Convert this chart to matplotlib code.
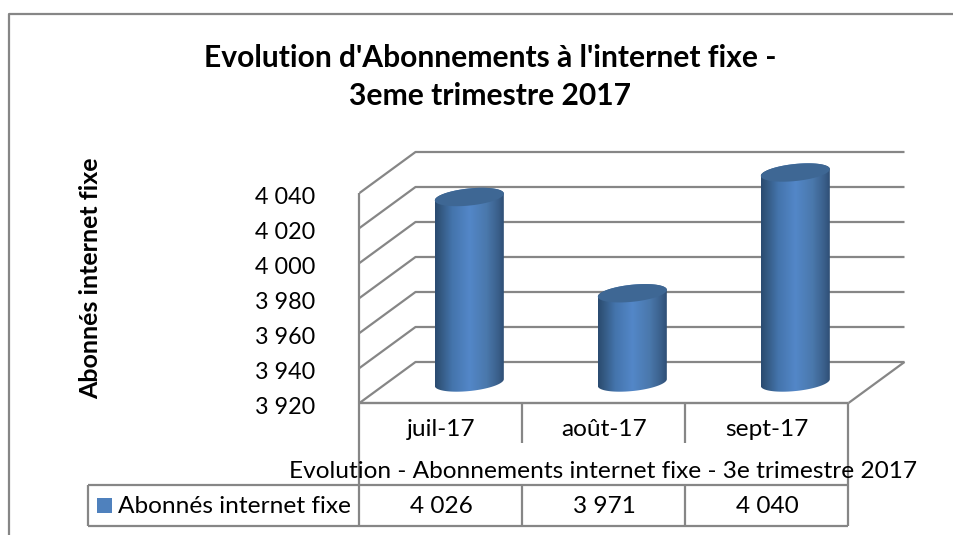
import numpy as np
import matplotlib
matplotlib.use("Agg")
import matplotlib.pyplot as plt
from matplotlib.patches import Polygon, Rectangle
from matplotlib.colors import LinearSegmentedColormap

# --- data ---
categories = ["juil-17", "août-17", "sept-17"]
values = [4026, 3971, 4040]
value_labels = ["4 026", "3 971", "4 040"]
y_ticks = [3920, 3940, 3960, 3980, 4000, 4020, 4040]
y_tick_labels = ["3 920", "3 940", "3 960", "3 980", "4 000", "4 020", "4 040"]
title = "Evolution d'Abonnements à l'internet fixe -\n3eme trimestre 2017"
y_label = "Abonnés internet fixe"
x_label = "Evolution - Abonnements internet fixe - 3e trimestre 2017"
series_name = "Abonnés internet fixe"

W, H = 954, 535
plt.rcParams['font.family'] = ['Lato', 'DejaVu Sans']
fig = plt.figure(figsize=(W / 100, H / 100), dpi=100, facecolor='white')

# axes = front plane of the 3D box, in pixels from the top-left
L, R, B, T = 359.5, 848.5, 403.0, 193.0
ax = fig.add_axes([L / W, 1 - B / H, (R - L) / W, (B - T) / H])
ax.set_xlim(-0.5, 2.5)
ax.set_ylim(3920, 4040)
ax.axis('off')
sx = (R - L) / 3
sy = (B - T) / 120
DX, DY = 56 / sx, 41 / sy          # box depth, in data units
GRID = '#868686'
TXT = 17.6


def pxx(p):
    return -0.5 + (p - L) / sx


def pxy(p):
    return 3920 + (B - p) / sy


def line(xs, ys, lw=1.6, z=1):
    ax.plot(xs, ys, color=GRID, lw=lw, clip_on=False, zorder=z, solid_capstyle='butt')


# walls and floor
xl, xr = -0.5, 2.5
for v in y_ticks:
    line([xl, xl + DX, xr + DX], [v, v + DY, v + DY])
line([xl, xl], [3920, 4040])
line([xr, xr + DX], [3920, 3920 + DY])
line([xl, xr], [3920, 3920], lw=1.7)

# cylinders
cmap = LinearSegmentedColormap.from_list(
    'cyl', [(0, '#2A4A70'), (0.08, '#335880'), (0.25, '#4474AC'), (0.5, '#5387C8'),
            (0.75, '#4A78AC'), (0.92, '#3A5F8A'), (1, '#2F4F76')])
grad = np.linspace(0, 1, 256).reshape(1, -1)
A, Bb, PHI = 34.5, 8.5, np.deg2rad(-6)


def ellipse(cx, cy, t):
    ex = A * np.cos(t) * np.cos(PHI) - Bb * np.sin(t) * np.sin(PHI)
    ey = A * np.cos(t) * np.sin(PHI) + Bb * np.sin(t) * np.cos(PHI)
    k = A / np.abs(ex).max()
    return cx + ex * k / sx, cy - ey / sy


t_all = np.linspace(0, 2 * np.pi, 361)
for i, v in enumerate(values):
    cx = i + DX / 2 + 0.002
    top = v + DY / 2
    bot = 3920 + DY / 2
    ex, ey = ellipse(cx, bot, t_all)
    fx, fy = ellipse(cx, top, t_all)
    # silhouette: lower arc of the base, upper arc of the top
    i0, i1 = np.argmax(ex), np.argmin(ex)
    a = (np.arange(i0, i1 + 1) % 360)
    lower = np.column_stack([ex[a], ey[a]])
    if lower[:, 1].mean() > bot:
        a = np.arange(i1, i0 + 361) % 360
        lower = np.column_stack([ex[a], ey[a]])[::-1]
    j0, j1 = np.argmin(fx), np.argmax(fx)
    b = np.arange(j0, j1 + 361 if j1 < j0 else j1 + 1) % 360
    upper = np.column_stack([fx[b], fy[b]])
    if upper[:, 1].mean() < top:
        b = np.arange(j1, j0 + 361 if j0 < j1 else j0 + 1) % 360
        upper = np.column_stack([fx[b], fy[b]])[::-1]
    sil = Polygon(np.vstack([lower, upper]), closed=True, transform=ax.transData,
                  facecolor='none', edgecolor='none')
    ax.add_patch(sil)
    sil.set_clip_on(False)
    im = ax.imshow(grad, cmap=cmap, aspect='auto', zorder=3, interpolation='bilinear',
                   extent=(cx - A / sx, cx + A / sx, 3900, 4070))
    im.set_clip_box(fig.bbox)
    im.set_clip_path(sil)
    ax.fill(fx, fy, color='#3E6794', zorder=4, lw=0, clip_on=False)
ax.set_xlim(-0.5, 2.5)
ax.set_ylim(3920, 4040)

# y ticks
for v, s in zip(y_ticks, y_tick_labels):
    ax.text(pxx(315), v - 4.5 / sy, s, ha='right', va='center', fontsize=16.8, color='black', clip_on=False)

# data table
bounds = [-0.5, 0.5, 1.5, 2.5]
y_cat, y_t0, y_t1 = pxy(443), pxy(485), pxy(526)
xleft = pxx(88)
line([xleft, xr], [y_t0, y_t0])
line([xleft, xr], [y_t1, y_t1])
line([xleft, xleft], [y_t0, y_t1])
line([-0.5, -0.5], [3920, y_t1])
line([2.5, 2.5], [3920, y_t1])
for b in bounds[1:3]:
    line([b, b], [3920, y_cat])
    line([b, b], [y_t0, y_t1])
for i, (c, s) in enumerate(zip(categories, value_labels)):
    ax.text(i, pxy(430), c, ha='center', va='center', fontsize=TXT, clip_on=False)
    ax.text(i, pxy(507), s, ha='center', va='center', fontsize=TXT, clip_on=False)
ax.add_patch(Rectangle((pxx(97), pxy(513)), 15 / sx, 15 / sy, color='#4F81BD', lw=0, clip_on=False))
ax.text(pxx(118), pxy(507), series_name, ha='left', va='center', fontsize=TXT, clip_on=False)

# axis titles
ax.text(pxx(603.5), pxy(472), x_label, ha='center', va='center', fontsize=TXT, clip_on=False, zorder=6)
ax.text(pxx(91), pxy(278), y_label, ha='center', va='center', rotation=90,
        fontsize=18, fontweight='bold', clip_on=False)
fig.text(490 / W, 1 - 77 / H, title, ha='center', va='center', fontsize=21.6,
         fontweight='bold', linespacing=1.42)

# chart frame
fig.add_artist(plt.Line2D([9 / W, 9 / W, 1], [0, 1 - 13.5 / H, 1 - 13.5 / H], color=GRID, lw=1.6))

fig.savefig('out.png', dpi=100, facecolor='white')
